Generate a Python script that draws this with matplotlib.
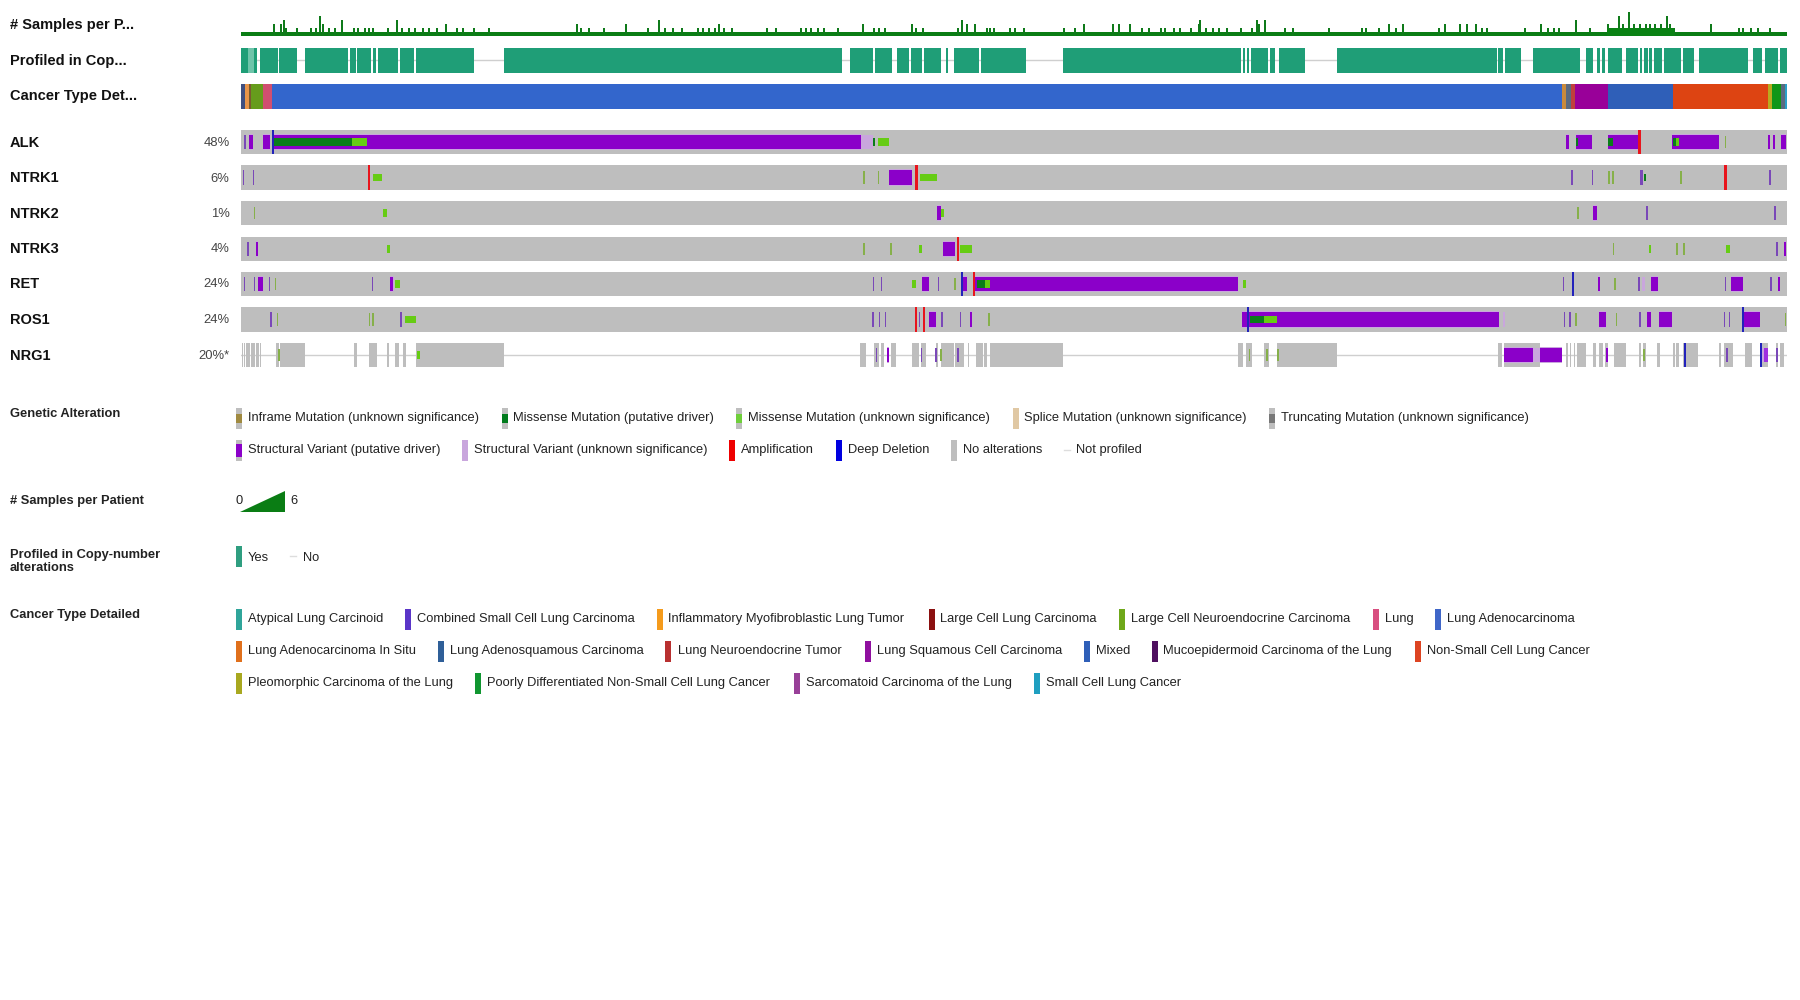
import matplotlib
matplotlib.use('Agg')
import matplotlib.pyplot as plt
from matplotlib.patches import Polygon

plt.rcParams['font.family'] = ['Liberation Sans', 'DejaVu Sans']

# all x values are sample ranks
n_samples = 1546

track_labels = ['# Samples per P...', 'Profiled in Cop...', 'Cancer Type Det...']
gene_labels = ['ALK', 'NTRK1', 'NTRK2', 'NTRK3', 'RET', 'ROS1', 'NRG1']
gene_pct = ['48%', '6%', '1%', '4%', '24%', '24%', '20%*']

samples_rank = [33, 40, 43, 45, 56, 70, 75, 79, 82, 88, 94, 101, 113, 117, 124, 128, 132, 147, 156, 161,
                168, 174, 182, 188, 196, 205, 216, 222, 233, 248, 336, 340, 348, 363, 385, 407, 418, 424,
                432, 441, 457, 462, 468, 474, 478, 483, 491, 526, 535, 560, 565, 570, 577, 583, 597, 622,
                633, 638, 644, 671, 675, 682, 717, 721, 726, 734, 746, 749, 753, 769, 774, 783, 823, 834,
                843, 872, 878, 889, 901, 908, 920, 924, 933, 939, 950, 958, 959, 965, 972, 978, 986, 1000,
                1011, 1016, 1018, 1024, 1044, 1052, 1088, 1121, 1125, 1138, 1148, 1155, 1162, 1198, 1204,
                1219, 1226, 1235, 1241, 1246, 1284, 1300, 1307, 1313, 1318, 1335, 1349, 1367, 1370, 1378,
                1382, 1388, 1393, 1399, 1405, 1409, 1414, 1420, 1426, 1429, 1433, 1470, 1498, 1502, 1510,
                1517, 1529]
samples_val = [3, 3, 4, 2, 2, 2, 2, 5, 3, 2, 2, 4, 2, 2, 2, 2, 2, 2, 4, 2,
               2, 2, 2, 2, 2, 3, 2, 2, 2, 2, 3, 2, 2, 2, 3, 2, 4, 2,
               2, 2, 2, 2, 2, 2, 3, 2, 2, 2, 2, 2, 2, 2, 2, 2, 2, 3,
               2, 2, 2, 3, 2, 2, 2, 4, 3, 3, 2, 2, 2, 2, 2, 2, 2, 2,
               3, 3, 3, 3, 2, 2, 2, 2, 2, 2, 2, 3, 4, 2, 2, 2, 2, 2,
               2, 4, 3, 4, 2, 2, 2, 2, 2, 2, 3, 2, 3, 2, 3,
               3, 3, 3, 2, 2, 2, 3, 2, 2, 2, 4, 2, 3, 2, 5,
               3, 6, 3, 3, 3, 3, 3, 3, 5, 3, 2, 3, 2, 2, 2,
               2, 2]
samples_dense_twos = [1367, 1368, 1369, 1370, 1371, 1372, 1373, 1374, 1375, 1376, 1377, 1378, 1379, 1380, 1381,
                      1382, 1383, 1384, 1385, 1386, 1387, 1388, 1389, 1390, 1391, 1392, 1393, 1394, 1395, 1396,
                      1397, 1398, 1399, 1400, 1401, 1402, 1403, 1404, 1405, 1406, 1407, 1408, 1409, 1410, 1411,
                      1412, 1413, 1414, 1415, 1416, 1417, 1418, 1419, 1420, 1421, 1422, 1423, 1424, 1425, 1426,
                      1427, 1428, 1429, 1430, 1431, 1432]

profiled_yes = [(0, 7.3), (13.3, 15.7), (18.5, 37), (38, 56), (64, 107), (109, 115), (116, 130), (132, 135), (137, 157),
                (158.5, 173), (174.6, 233), (263, 601), (608.5, 632), (634, 651), (656, 668), (670, 681), (683, 700),
                (705, 706.5), (713, 737.5), (739.5, 784.6), (822, 1000), (1002, 1004), (1006, 1008), (1010, 1027),
                (1029, 1034), (1037.5, 1063.5), (1095.6, 1255.6), (1257, 1262), (1264, 1280), (1292, 1339), (1345, 1352),
                (1356, 1359), (1361, 1364), (1367, 1381), (1385, 1397), (1399, 1401), (1403, 1407), (1408, 1411),
                (1412.5, 1421), (1423, 1440), (1442, 1453), (1458, 1507), (1512, 1521), (1524, 1537), (1539, 1546)]
profiled_pale = [(7.3, 13.3)]

cancer_spans = [(0, 4), (4, 7.5), (7.5, 9.5), (9.5, 22), (22, 31), (31, 1321), (1321, 1324.5), (1324.5, 1330),
                (1330, 1334), (1334, 1367), (1367, 1432), (1432, 1527), (1527, 1531), (1531, 1539.6), (1539.6, 1544),
                (1544, 1546)]
cancer_colors = ['#3f4f80', '#e8954a', '#7a5a30', '#669c1c', '#d04f70', '#3366cc', '#c98a3c', '#5a6a80',
                 '#c0403c', '#990099', '#2f5fb8', '#dd4412', '#b8aa20', '#109618', '#5a6a80', '#2a9fc8']

# gene tracks: block spans (from, to) and thin ticks (rank) per alteration type
alk_sv = [(8, 12), (22, 29), (33, 620), (1324.5, 1328), (1335, 1351), (1367, 1397), (1431, 1478), (1527, 1529),
          (1531.5, 1533.5), (1539.5, 1544.5)]
alk_sv_unk = [(620, 631.5)]
alk_mis_drv = [(33, 111), (631.5, 634), (1335, 1337), (1367, 1371.5), (1431.5, 1435.4)]
alk_mis = [(111, 126), (636.5, 648), (1435.4, 1438)]
alk_ticks = [4]
alk_green_ticks = [1484.5]
alk_amp = [1398.4]
alk_del = [32]

ntrk1_sv = [(648, 671)]
ntrk1_sv_unk = []
ntrk1_mis_drv = [(1403, 1405)]
ntrk1_mis = [(132, 140.5), (678.6, 696)]
ntrk1_ticks = [2.4, 12.7, 1331, 1351.6, 1400, 1401.5, 1529]
ntrk1_green_ticks = [623, 637.6, 1368, 1372, 1440]
ntrk1_amp = [128, 675.5, 1484.5]
ntrk1_del = []

ntrk2_sv = [(695.8, 700), (1352, 1356)]
ntrk2_sv_unk = []
ntrk2_mis_drv = []
ntrk2_mis = [(141.7, 145.5), (700, 702.6)]
ntrk2_ticks = [1406, 1534]
ntrk2_green_ticks = [13.5, 1337]
ntrk2_amp = []
ntrk2_del = []

ntrk3_sv = [(15.4, 17.3), (702, 714), (1542.6, 1544.6)]
ntrk3_sv_unk = []
ntrk3_mis_drv = []
ntrk3_mis = [(145.5, 148.6), (677.8, 681), (719, 731.4), (1407.5, 1410), (1485, 1489)]
ntrk3_ticks = [7, 1536]
ntrk3_green_ticks = [623, 650, 1372.7, 1436, 1443]
ntrk3_amp = [717]
ntrk3_del = []

ret_sv = [(16.6, 21.5), (149.4, 151.7), (680.8, 688), (720.6, 726.4), (734, 997), (1357, 1358.5), (1409.8, 1417),
          (1490, 1501.7), (1537, 1538.5)]
ret_sv_unk = [(151.7, 153.3), (1401, 1403.7)]
ret_mis_drv = [(736, 743.6)]
ret_mis = [(154.3, 159.3), (671, 675), (743.6, 748.6), (1002, 1004.5)]
ret_ticks = [3.5, 13.5, 28.4, 131.4, 632.6, 640.7, 697.7, 1322.6, 1398, 1484.4, 1530]
ret_green_ticks = [34.5, 714, 1374]
ret_amp = [733]
ret_del = [720.6, 1332]

ros1_sv = [(688, 695), (729, 731), (1001, 1257.5), (1358, 1365.4), (1406, 1410), (1418, 1431), (1503.2, 1518.5)]
ros1_sv_unk = [(1261.5, 1263.5)]
ros1_mis_drv = [(1008.8, 1023.3)]
ros1_mis = [(164, 174.6), (1023.3, 1036.3)]
ros1_ticks = [30, 160, 631.9, 638.4, 644.5, 678.6, 701, 719.5, 1323.7, 1329, 1399, 1483.3, 1488.7]
ros1_green_ticks = [36.5, 128.3, 132, 748, 1335, 1375.4, 1544.5]
ros1_amp = [674.7, 683]
ros1_del = [1006.8, 1502]

nrg1_profiled = [(1, 1.6), (2.8, 4), (4.7, 8.5), (9.7, 13.5), (14.6, 18), (19, 20), (21.5, 22.3), (35, 38), (38.8, 64),
                 (112.6, 116.4), (127.5, 136), (146.3, 147.8), (154, 157.8), (162, 165.4), (174.6, 263.4),
                 (618.5, 625), (632.6, 638.4), (639.5, 643), (650, 654.8), (671, 677.8), (679.7, 684.7),
                 (694.6, 696.5), (699.6, 713), (714, 722.6), (727, 728), (734.8, 741.7), (743, 745.5), (749.4, 821.7),
                 (996.9, 1001.5), (1005.3, 1010.7), (1023.3, 1028.3), (1036.3, 1095.6), (1256.7, 1261.3), (1262.5, 1298.5),
                 (1324.5, 1327), (1328.7, 1329.8), (1332.5, 1334), (1336, 1344.8), (1352.4, 1355), (1358, 1362),
                 (1364, 1367.4), (1372.7, 1384.6), (1398.3, 1400), (1401.8, 1404.8), (1416.3, 1419), (1432.4, 1433.6),
                 (1435, 1438), (1442, 1457.3), (1478, 1480), (1482.5, 1491.7), (1504.4, 1511), (1518.5, 1527.3),
                 (1535, 1537), (1538.8, 1543.3)]
nrg1_sv = [(646, 647.6), (1263, 1292), (1298.8, 1321.4), (1365, 1367), (1519, 1521)]
nrg1_sv_unk = [(1292, 1298.5), (1521, 1527)]
nrg1_sv_bright = [(1522.8, 1527)]
nrg1_mis_drv = []
nrg1_mis = [(176, 179)]
nrg1_ticks = [635.3, 680.5, 695, 717, 1486, 1536]
nrg1_green_ticks = [38, 700, 1008.7, 1026, 1037, 1403]
nrg1_amp = []
nrg1_del = [1444, 1519.7]

ga_row1 = ['Inframe Mutation (unknown significance)', 'Missense Mutation (putative driver)',
           'Missense Mutation (unknown significance)', 'Splice Mutation (unknown significance)',
           'Truncating Mutation (unknown significance)']
ga_row2 = ['Structural Variant (putative driver)', 'Structural Variant (unknown significance)', 'Amplification',
           'Deep Deletion', 'No alterations', 'Not profiled']
ct_row1 = ['Atypical Lung Carcinoid', 'Combined Small Cell Lung Carcinoma', 'Inflammatory Myofibroblastic Lung Tumor',
           'Large Cell Lung Carcinoma', 'Large Cell Neuroendocrine Carcinoma', 'Lung', 'Lung Adenocarcinoma']
ct_row2 = ['Lung Adenocarcinoma In Situ', 'Lung Adenosquamous Carcinoma', 'Lung Neuroendocrine Tumor',
           'Lung Squamous Cell Carcinoma', 'Mixed', 'Mucoepidermoid Carcinoma of the Lung', 'Non-Small Cell Lung Cancer']
ct_row3 = ['Pleomorphic Carcinoma of the Lung', 'Poorly Differentiated Non-Small Cell Lung Cancer',
           'Sarcomatoid Carcinoma of the Lung', 'Small Cell Lung Cancer']

GREY = '#bebebe'
PURPLE = '#8b00c9'
LILAC = '#c9a6dd'
TICK = '#7a48b8'
GREEN_DRV = '#0a7d1a'
GREEN = '#66cc14'
GREEN_TICK = '#86b04a'
LEFT, RIGHT = 241, 1787
FIG_W, FIG_H = 1800, 1000

fig = plt.figure(figsize=(18, 10), dpi=100)


def track_ax(top, bottom):
    ax = fig.add_axes([LEFT / FIG_W, 1 - bottom / FIG_H, (RIGHT - LEFT) / FIG_W, (bottom - top) / FIG_H])
    ax.set_xlim(0, n_samples)
    ax.set_ylim(0, 1)
    ax.axis('off')
    return ax


def spans(ax, items, color, low=0.0, high=1.0):
    ax.broken_barh([(a, b - a) for a, b in items], (low, high - low), facecolor=color, edgecolor='none')


def ticks(ax, items, color, width=1.4, low=0.0, high=1.0):
    spans(ax, [(x - width / 2, x + width / 2) for x in items], color, low, high)


# samples per patient
ax = track_ax(12, 36)
ax.set_ylim(0, 6)
ax.bar([i + 0.5 for i in range(n_samples)], [1] * n_samples, width=1.0, color='#0a7d14', linewidth=0)
ax.bar(samples_rank, samples_val, width=1.6, color='#0f7a1a', linewidth=0)
ax.bar(samples_dense_twos, [2] * len(samples_dense_twos), width=1.1, color='#0a8214', linewidth=0)

# profiled in copy number
ax = track_ax(48, 73)
ax.plot([0, n_samples], [0.5, 0.5], color='#cfcfcf', lw=1, zorder=0)
spans(ax, profiled_yes, '#1f9e77')
spans(ax, profiled_pale, '#6fc4aa')

# cancer type
ax = track_ax(83.5, 108.5)
for (a, b), col in zip(cancer_spans, cancer_colors):
    spans(ax, [(a, b)], col)

# gene tracks
gene_rows = [(130, 154), (165, 190), (201, 225), (237, 261), (272, 296), (307, 332), (343, 367)]
gene_data = [
    (alk_sv, alk_sv_unk, alk_mis_drv, alk_mis, alk_ticks, alk_green_ticks, alk_amp, alk_del),
    (ntrk1_sv, ntrk1_sv_unk, ntrk1_mis_drv, ntrk1_mis, ntrk1_ticks, ntrk1_green_ticks, ntrk1_amp, ntrk1_del),
    (ntrk2_sv, ntrk2_sv_unk, ntrk2_mis_drv, ntrk2_mis, ntrk2_ticks, ntrk2_green_ticks, ntrk2_amp, ntrk2_del),
    (ntrk3_sv, ntrk3_sv_unk, ntrk3_mis_drv, ntrk3_mis, ntrk3_ticks, ntrk3_green_ticks, ntrk3_amp, ntrk3_del),
    (ret_sv, ret_sv_unk, ret_mis_drv, ret_mis, ret_ticks, ret_green_ticks, ret_amp, ret_del),
    (ros1_sv, ros1_sv_unk, ros1_mis_drv, ros1_mis, ros1_ticks, ros1_green_ticks, ros1_amp, ros1_del),
    (nrg1_sv, nrg1_sv_unk, nrg1_mis_drv, nrg1_mis, nrg1_ticks, nrg1_green_ticks, nrg1_amp, nrg1_del),
]
for i, ((top, bottom), data) in enumerate(zip(gene_rows, gene_data)):
    sv, sv_unk, mis_drv, mis, tk, gtk, amp, dele = data
    ax = track_ax(top, bottom)
    if gene_labels[i] == 'NRG1':
        ax.plot([0, n_samples], [0.5, 0.5], color='#cfcfcf', lw=1, zorder=0)
        spans(ax, nrg1_profiled, GREY)
    else:
        spans(ax, [(0, n_samples)], GREY)
    # pale edge around structural variant blocks
    spans(ax, sv, LILAC, 0.17, 0.83)
    spans(ax, sv_unk, LILAC, 0.2, 0.8)
    spans(ax, sv, PURPLE, 0.21, 0.79)
    if gene_labels[i] == 'NRG1':
        spans(ax, nrg1_sv_unk, LILAC, 0.2, 0.8)
        spans(ax, nrg1_sv_bright, '#a030e0', 0.21, 0.79)
    ticks(ax, tk, TICK, low=0.2, high=0.8)
    ticks(ax, gtk, GREEN_TICK, low=0.25, high=0.75)
    spans(ax, mis_drv, GREEN_DRV, 0.35, 0.65)
    spans(ax, mis, GREEN, 0.35, 0.65)
    ticks(ax, amp, '#e8141c', width=2.2)
    ticks(ax, dele, '#2222bb', width=1.8)

# overlay axes in picture pixels, for text and legend
ov = fig.add_axes([0, 0, 1, 1])
ov.set_xlim(0, FIG_W)
ov.set_ylim(FIG_H, 0)
ov.axis('off')
ov.patch.set_alpha(0)

for name, y in zip(track_labels, [25, 61, 96]):
    ov.text(10, y, name, fontsize=10.55, fontweight='bold', va='center', color='#111111')
for name, pct, y in zip(gene_labels, gene_pct, [143, 178.5, 214, 249, 284, 320, 356]):
    ov.text(10, y, name, fontsize=10.55, fontweight='bold', va='center', color='#111111')
    ov.text(229.5, y, pct, fontsize=9.4, va='center', ha='right', color='#444444')


def swatch(x, y, color, center=None, h=21, center_h=9):
    ov.bar(x + 3, h, width=6, bottom=y - h / 2, color=color, linewidth=0)
    if center:
        ov.bar(x + 3, center_h, width=6, bottom=y - center_h / 2, color=center, linewidth=0)


def label(x, y, text):
    ov.text(x, y, text, fontsize=9.28, va='center', color='#222222')


def head(y, text):
    ov.text(10, y, text, fontsize=9.28, fontweight='bold', va='center', color='#222222', linespacing=1.1)


head(414, 'Genetic Alteration')
head(501, '# Samples per Patient')
head(561.5, 'Profiled in Copy-number\nalterations')
head(615, 'Cancer Type Detailed')

ga_row1_swatch = [236, 501.5, 736, 1013, 1269]
ga_row1_text = [247.5, 513, 748, 1024.5, 1281]
ga_row1_style = [(GREY, '#a08a40'), (GREY, '#007a1c'), (GREY, '#6fcf3a'), ('#e0c8a4', None), (GREY, '#777777')]
for x, tx, text, (col, cen) in zip(ga_row1_swatch, ga_row1_text, ga_row1, ga_row1_style):
    swatch(x, 418, col, cen)
    label(tx, 418, text)

ga_row2_swatch = [236, 462, 729, 836, 951]
ga_row2_text = [247.5, 473.5, 741, 847.5, 963, 1076.5]
ga_row2_style = [(GREY, PURPLE), (LILAC, None), ('#ee0000', None), ('#0000e0', None), (GREY, None)]
for x, (col, cen) in zip(ga_row2_swatch, ga_row2_style):
    swatch(x, 450, col, cen, center_h=13)
ov.plot([1064, 1070], [450, 450], color='#dddddd', lw=1)
for tx, text in zip(ga_row2_text, ga_row2):
    label(tx, 450, text)

# samples per patient legend
ov.text(236, 501, '0', fontsize=9.28, va='center', color='#222222')
ov.add_patch(Polygon([(240, 512), (285, 512), (285, 491)], closed=True, color='#0a7d14', lw=0))
ov.text(290, 501, '6', fontsize=9.28, va='center', color='#222222')

swatch(236, 556, '#2f9e80')
label(247.5, 558, 'Yes')
ov.plot([290, 296], [556, 556], color='#dddddd', lw=1)
label(302.5, 558, 'No')

ct_row1_swatch = [236, 404.6, 656.6, 928.6, 1119, 1372.5, 1434.7]
ct_row1_text = [247.5, 417, 668, 940, 1131, 1384.7, 1447]
ct_row1_color = ['#2fa59a', '#5a35c8', '#f59b1c', '#8b1010', '#6fa81a', '#d84f80', '#3f66c8']
ct_row2_swatch = [236, 437.8, 665, 865, 1084, 1152, 1415]
ct_row2_text = [247.5, 449.5, 677.5, 877, 1096, 1163, 1427]
ct_row2_color = ['#e0701c', '#2f5f98', '#b83030', '#8f0f9f', '#2f5fb8', '#4f1060', '#dd4422']
ct_row3_swatch = [236, 475, 794, 1033.7]
ct_row3_text = [247.5, 486.7, 806, 1046]
ct_row3_color = ['#a8a820', '#109630', '#984098', '#1f9fc0']

for y, sw, tx, names, cols in [(619, ct_row1_swatch, ct_row1_text, ct_row1, ct_row1_color),
                               (651, ct_row2_swatch, ct_row2_text, ct_row2, ct_row2_color),
                               (683, ct_row3_swatch, ct_row3_text, ct_row3, ct_row3_color)]:
    for x, t, name, col in zip(sw, tx, names, cols):
        swatch(x, y, col)
        label(t, y, name)

fig.savefig('out.png', dpi=100)
plt.close(fig)
